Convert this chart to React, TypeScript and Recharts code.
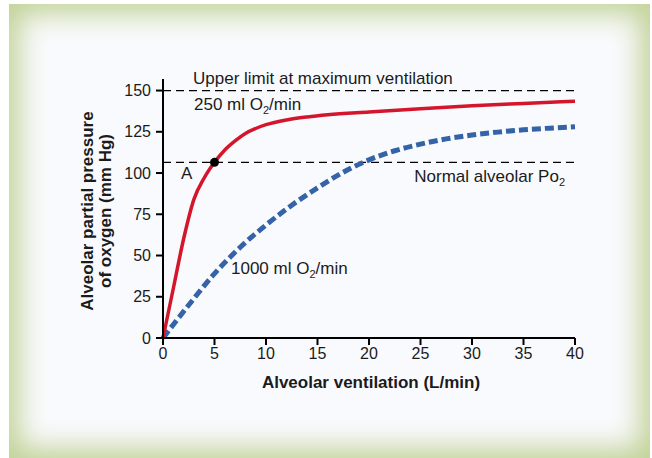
import React from 'react'
import { Line, LineChart, ReferenceDot, ReferenceLine, XAxis, YAxis } from 'recharts'

// 250 ml O2/min 곡선 — 그림에서 읽은 값
const lowX = [0, 1, 2, 3, 4, 5, 6, 7, 8, 9, 10, 12, 14, 16, 20, 25, 30, 35, 40]
const lowY = [0, 30, 60, 84, 97, 106.5, 114, 119.5, 124, 127, 129.3, 132.2, 134, 135.3, 137, 139, 140.8, 142.2, 143.5]

// 1000 ml O2/min 곡선
const highX = [0, 2.5, 5, 7.5, 10, 12.5, 15, 17.5, 20, 22.5, 25, 27.5, 30, 32.5, 35, 37.5, 40]
const highY = [0, 20, 39, 55, 68.5, 80.5, 91, 100.5, 108, 113.5, 117.5, 120.7, 123, 124.8, 126.2, 127.2, 128]

const xTicks = [0, 5, 10, 15, 20, 25, 30, 35, 40]
const yTicks = [0, 25, 50, 75, 100, 125, 150]

const upperLimit = 150
const normalPo2 = 106.5
const pointA = { x: 5, y: 106.5 }

const lowData = lowX.map((x, i) => ({ x, y: lowY[i] }))
const highData = highX.map((x, i) => ({ x, y: highY[i] }))

const FONT = '"Liberation Sans", Arial, sans-serif'
const INK = '#1b1b1b'
const FS = 17

// 아래첨자 2가 붙는 주석 텍스트
function SubText({ x, y, pre, post, anchor = 'start' }: { x: number; y: number; pre: string; post: string; anchor?: 'start' | 'end' }) {
  return (
    <text x={x} y={y} fontFamily={FONT} fontSize={FS} fill={INK} textAnchor={anchor}>
      {pre}
      <tspan dy={4} fontSize={11}>2</tspan>
      <tspan dy={-4}>{post}</tspan>
    </text>
  )
}

export default function App() {
  return (
    <div style={{ position: 'absolute', left: 0, top: 0, width: 652, height: 458, background: '#fff' }}>
      <div
        style={{
          position: 'absolute',
          left: 9,
          top: 4,
          width: 641,
          height: 454,
          background: '#f9fafd',
          boxShadow: 'inset 0 0 28px 10px #c1d297',
        }}
      />
      <div style={{ position: 'absolute', left: 0, top: 0 }}>
        <LineChart width={652} height={458} margin={{ top: 79, right: 77, bottom: 90, left: 103 }}>
          <XAxis
            dataKey="x"
            type="number"
            domain={[0, 40]}
            ticks={xTicks}
            allowDuplicatedCategory={false}
            height={30}
            tickSize={7}
            tickMargin={3}
            axisLine={{ stroke: '#000', strokeWidth: 2 }}
            tickLine={{ stroke: '#000', strokeWidth: 2 }}
            tick={{ fontSize: 16, fill: INK, fontFamily: FONT }}
            label={{
              content: () => (
                <text x={371} y={388} textAnchor="middle" fontFamily={FONT} fontSize={FS} fontWeight="bold" fill={INK}>
                  Alveolar ventilation (L/min)
                </text>
              ),
            }}
          />
          <YAxis
            type="number"
            domain={[0, 157]}
            ticks={yTicks}
            width={60}
            tickSize={7}
            tickMargin={5}
            axisLine={{ stroke: '#000', strokeWidth: 2 }}
            tickLine={{ stroke: '#000', strokeWidth: 2 }}
            tick={{ fontSize: 16, fill: INK, fontFamily: FONT }}
            label={{
              content: () => (
                <g transform="translate(0, 211) rotate(-90)" fontFamily={FONT} fontSize={FS} fontWeight="bold" fill={INK}>
                  <text x={0} y={93} textAnchor="middle">Alveolar partial pressure</text>
                  <text x={0} y={111} textAnchor="middle">of oxygen (mm Hg)</text>
                </g>
              ),
            }}
          />
          <ReferenceLine
            y={upperLimit}
            stroke="#000"
            strokeWidth={1.3}
            strokeDasharray="8 5"
            ifOverflow="visible"
            label={{
              content: (p: any) => (
                <g>
                  <text x={p.viewBox.x + 30} y={p.viewBox.y - 7} fontFamily={FONT} fontSize={FS} fill={INK}>
                    Upper limit at maximum ventilation
                  </text>
                  <SubText x={p.viewBox.x + 31} y={p.viewBox.y + 19} pre="250 ml O" post="/min" />
                </g>
              ),
            }}
          />
          <ReferenceLine
            y={normalPo2}
            stroke="#000"
            strokeWidth={1.3}
            strokeDasharray="8 5"
            label={{
              content: (p: any) => (
                <SubText
                  x={p.viewBox.x + p.viewBox.width - 10}
                  y={p.viewBox.y + 20}
                  pre="Normal alveolar Po"
                  post=""
                  anchor="end"
                />
              ),
            }}
          />
          <Line
            data={highData}
            dataKey="y"
            type="monotone"
            stroke="#3463a8"
            strokeWidth={5}
            strokeDasharray="9 4"
            dot={false}
            isAnimationActive={false}
          />
          <Line
            data={lowData}
            dataKey="y"
            type="monotone"
            stroke="#d4162c"
            strokeWidth={3.5}
            dot={false}
            isAnimationActive={false}
          />
          <ReferenceDot
            x={pointA.x}
            y={pointA.y}
            r={4.5}
            fill="#000"
            stroke="none"
            label={{
              content: (p: any) => (
                <text x={p.viewBox.x - 29} y={p.viewBox.y + 21} fontFamily={FONT} fontSize={FS} fill={INK}>
                  A
                </text>
              ),
            }}
          />
          <ReferenceDot
            x={6.6}
            y={39}
            r={0}
            fill="none"
            stroke="none"
            label={{
              content: (p: any) => <SubText x={p.viewBox.x} y={p.viewBox.y} pre="1000 ml O" post="/min" />,
            }}
          />
        </LineChart>
      </div>
    </div>
  )
}
